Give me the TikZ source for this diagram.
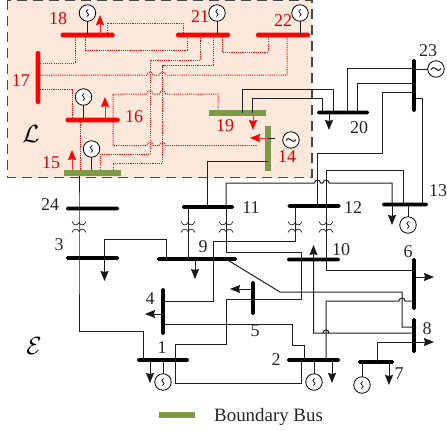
\documentclass[tikz,border=0pt]{standalone}
\usepackage{fontspec}
\setmainfont{Liberation Serif}
\usetikzlibrary{arrows.meta}
\definecolor{bdry}{HTML}{7D9A46}
\definecolor{peach}{HTML}{FCE9DC}
\newcommand{\hb}[2]{(#1 -| #2,0)}
\newcommand{\vb}[2]{(#1 |- 0,#2)}
\newcommand{\jmpx}[2]{-- (#1-3.2,#2) .. controls (#1-2.4,#2-4) and (#1+2.4,#2-4) .. (#1+3.2,#2)}
\newcommand{\xfmr}[2]{%
  \draw[xf] (#1-7,#2-5.5) .. controls (#1-5.5,#2-1.2) and (#1-1.5,#2-1.2) .. (#1,#2-4.5) .. controls (#1+1.5,#2-1.2) and (#1+5.5,#2-1.2) .. (#1+7,#2-5.5);
  \draw[xf] (#1-7,#2+5.5) .. controls (#1-5.5,#2+1.2) and (#1-1.5,#2+1.2) .. (#1,#2+4.5) .. controls (#1+1.5,#2+1.2) and (#1+5.5,#2+1.2) .. (#1+7,#2+5.5);}
\tikzset{
  x=1pt,y=-1pt,
  wire/.style={line width=1pt,draw=black!88},
  rwire/.style={line width=1pt,draw=red,dash pattern=on 1.1pt off 1.1pt},
  xf/.style={line width=0.65pt,draw=black!90},
  loadk/.style={line width=1pt,draw=black!90,-{Stealth[length=10pt,width=8pt,inset=1pt]}},
  loadr/.style={line width=1pt,draw=red!85!white,-{Stealth[length=10pt,width=8pt,inset=1pt,fill=red,color=red]}},
  hbus/.style={rectangle,rounded corners=1.6pt,fill=black,inner sep=0pt,minimum height=3.8pt},
  vbus/.style={rectangle,rounded corners=1.6pt,fill=black,inner sep=0pt,minimum width=3.8pt},
  rh/.style={hbus,fill=red,minimum height=4.8pt},
  rv/.style={vbus,fill=red,minimum width=4.8pt},
  gh/.style={rectangle,fill=bdry,inner sep=0pt,minimum height=6pt},
  gv/.style={rectangle,fill=bdry,inner sep=0pt,minimum width=6pt},
  genv/.style={circle,draw=black,line width=0.8pt,fill=white,inner sep=0pt,minimum size=16.5pt,
    path picture={\draw[line width=0.7pt,shift={(path picture bounding box.center)}] (0.6,-3.6) .. controls (-1.8,-2.2) and (-1.4,-0.8) .. (0,0) .. controls (1.4,0.8) and (1.8,2.2) .. (-0.6,3.6);}},
  genh/.style={circle,draw=black,line width=0.8pt,fill=white,inner sep=0pt,minimum size=16.5pt,
    path picture={\draw[line width=0.9pt,shift={(path picture bounding box.center)}] (-5,0.5) .. controls (-3,-2.4) and (-1.5,-1.3) .. (0,0) .. controls (1.5,1.3) and (3,2.4) .. (5,-0.5);}},
  num/.style={font=\fontsize{18}{20}\selectfont,text=black!85,inner sep=0pt},
  rnum/.style={num,text=red!90!black},
  cal/.style={font=\fontsize{24.88}{28}\selectfont,text=black,inner sep=0pt},
}
\begin{document}
\begin{tikzpicture}
\useasboundingbox (0,0) rectangle (447,429);
\draw[fill=peach,draw=black!72,line width=1.2pt,dash pattern=on 10pt off 6pt] (7.5,0.4) rectangle (312,177.5);
% buses
\node[rh,minimum width=54pt] (b18) at (87.5,35) {};
\node[rv,minimum height=53pt] (b17) at (38,77.5) {};
\node[rh,minimum width=54pt] (b16) at (92.5,120) {};
\node[gh,minimum width=57pt] (b15) at (92.3,173) {};
\node[rh,minimum width=54pt] (b21) at (203,35) {};
\node[rh,minimum width=54pt] (b22) at (283,35) {};
\node[gh,minimum width=57pt] (b19) at (237.5,112.5) {};
\node[gv,minimum height=45pt] (b14) at (268,148.5) {};
\node[hbus,minimum width=52pt] (b20) at (343,112.5) {};
\node[vbus,minimum height=53pt] (b23) at (414,85.5) {};
\node[hbus,minimum width=46pt] (b13) at (405,204.5) {};
\node[hbus,minimum width=53pt] (b12) at (314,206) {};
\node[hbus,minimum width=52pt] (b11) at (208,207) {};
\node[hbus,minimum width=53pt] (b24) at (92.5,208.5) {};
\node[hbus,minimum width=53pt] (b3) at (92.5,258) {};
\node[hbus,minimum width=80pt] (b9) at (197,259) {};
\node[hbus,minimum width=53pt] (b10) at (313.5,259.5) {};
\node[vbus,minimum height=47pt] (b4) at (163,311.5) {};
\node[vbus,minimum height=34pt] (b5) at (253,298) {};
\node[hbus,minimum width=52pt] (b1) at (163,360) {};
\node[hbus,minimum width=53pt] (b2) at (313.5,360) {};
\node[vbus,minimum height=52pt] (b6) at (414,284) {};
\node[vbus,minimum height=35pt] (b8) at (414,335.5) {};
\node[hbus,minimum width=36pt] (b7) at (376,362) {};
% generators
\coordinate (g18) at (87.5,13);
\coordinate (g21) at (217,13);
\coordinate (g22) at (300,13);
\coordinate (g16) at (83.5,97);
\coordinate (g15) at (91.5,149);
\coordinate (g14) at (291,140);
\coordinate (g23) at (436,69);
\coordinate (g13) at (408,225);
\coordinate (g1) at (163,382);
\coordinate (g2) at (314,382);
\coordinate (g7) at (362,385);
% free ends of load arrows
\coordinate (l18) at (100,15);
\coordinate (l16) at (105,97);
\coordinate (l15) at (72,150);
\coordinate (l19) at (253,130);
\coordinate (l14) at (250,138);
\coordinate (l20) at (329,130);
\coordinate (l13) at (392,225);
\coordinate (l3) at (104.5,281);
\coordinate (l9) at (195,279);
\coordinate (l10) at (313.5,245);
\coordinate (l4) at (145,314);
\coordinate (l5) at (230,289);
\coordinate (l1) at (150,383);
\coordinate (l2) at (332,383);
\coordinate (l7) at (389,385);
\coordinate (l6) at (434,277);
\coordinate (l8) at (434,342);
% red dotted lines
\draw[rwire] \hb{b18}{107} -- (107,23) -- (183,23) -- \hb{b21}{183};
\draw[rwire] \hb{b18}{75} -- (75,63) -- \vb{b17}{63};
\draw[rwire] \hb{b18}{85} -- (85,50) -- (187,50) -- \hb{b21}{187};
\draw[rwire] \vb{b17}{75} \jmpx{150}{75} \jmpx{162.5}{75} -- (287,75) -- \hb{b22}{287};
\draw[rwire] \vb{b17}{89} -- (72,89) -- \hb{b16}{72};
\draw[rwire] \hb{b16}{113} -- (113,94) \jmpx{150}{94} \jmpx{162.5}{94} -- (218,94) -- (b19.north -| 218,0);
\draw[rwire] \hb{b16}{113} -- (113,145.5) \jmpx{150}{145.5} \jmpx{162.5}{145.5} -- (257,145.5);
\draw[rwire] \hb{b16}{80} -- (b15.north -| 80,0);
\draw[rwire] (b15.north -| 100,0) -- (100,154) -- (150,154) -- (150,60) -- (200.5,60) -- \hb{b21}{200.5};
\draw[rwire] (b15.north -| 113,0) -- (113,163) -- (162.5,163) -- (162.5,65) -- (213,65) -- \hb{b21}{213};
\draw[rwire] \hb{b21}{222} -- (222,52) -- (268,52) -- \hb{b22}{268};
% black lines
\draw[wire] (b15.south -| 79,0) -- \hb{b24}{79} -- \hb{b3}{79} -- (79,331) -- (143,331) -- \hb{b1}{143};
\draw[wire] \hb{b3}{104.5} -- (104.5,239) -- (166,239) -- \hb{b9}{166};
\draw[wire] \hb{b11}{188} -- \hb{b9}{188};
\draw[wire] \hb{b11}{226} -- (226,252) -- (301,252) -- (301,299) -- (253,299);
\draw[wire] \hb{b12}{295} -- (295,241) -- (213,241) -- (213,301) -- \vb{b4}{301};
\draw[wire] \hb{b9}{226} -- (280,292) -- (402,292) -- (402,327) -- \vb{b8}{327};
\draw[wire] \hb{b12}{326} -- (326,270) -- \vb{b6}{270};
\draw[wire] \hb{b12}{317.5} -- (317.5,153) -- (382,153) -- (382,92) -- \vb{b23}{92};
\draw[wire] \hb{b12}{326} -- (326,170) -- (403,170) -- \hb{b13}{403};
\draw[wire] \hb{b11}{226} -- (226,183) \jmpx{317.5}{183} \jmpx{326}{183} -- (392,183) -- \hb{b13}{392};
\draw[wire] \vb{b23}{98} -- (422,98) -- \hb{b13}{422};
\draw[wire] \hb{b20}{347} -- (347,68) -- \vb{b23}{68};
\draw[wire] \hb{b20}{357} -- (357,83) -- \vb{b23}{83};
\draw[wire] \hb{b19}{242} -- (242,89) -- (333,89) -- \hb{b20}{333};
\draw[wire] \hb{b19}{252} -- (252,98.7) -- (322,98.7) -- \hb{b20}{322};
\draw[wire] \vb{b14}{161} -- (207.5,161) -- \hb{b11}{207.5};
\draw[wire] \vb{b5}{299} -- (226,299) -- (226,344) -- (175,344) -- \hb{b1}{175};
\draw[wire] \hb{b1}{175} -- (175,383) -- (301,383) -- \hb{b2}{301};
\draw[wire] \vb{b4}{324} -- (292,324) -- (292,345) -- (304,345) -- \hb{b2}{304};
\draw[wire] \hb{b2}{326} -- (326,301) \jmpx{402}{301} -- \vb{b6}{301};
\draw[wire] \hb{b7}{377} -- (377,342) -- \vb{b8}{342};
\draw[wire] \vb{b8}{333} \jmpx{326}{333} -- (313.5,333) -- \hb{b10}{313.5};
% transformers
\xfmr{79}{227}
\xfmr{188}{227}
\xfmr{226}{227}
\xfmr{295}{227}
\xfmr{326}{227}
% generator stems
\draw[wire] (g18) -- \hb{b18}{87.5};
\draw[wire] (g21) -- \hb{b21}{217};
\draw[wire] (g22) -- \hb{b22}{300};
\draw[wire] (g16) -- \hb{b16}{83.5};
\draw[wire] (g15) -- (b15.north -| 91.5,0);
\draw[wire] (275,138) -- \vb{b14}{138};
\draw[wire] (g23) -- \vb{b23}{69};
\draw[wire] (g13) -- \hb{b13}{408};
\draw[wire] (g1) -- \hb{b1}{163};
\draw[wire] (g2) -- \hb{b2}{314};
\draw[wire] (g7) -- \hb{b7}{362};
% generators over the stems
\node[genv] (G18) at (g18) {};
\node[genv] (G21) at (g21) {};
\node[genv] (G22) at (g22) {};
\node[genv] (G16) at (g16) {};
\node[genv] (G15) at (g15) {};
\node[genh] (G14) at (g14) {};
\node[genh] (G23) at (g23) {};
\node[genv] (G13) at (g13) {};
\node[genv] (G1) at (g1) {};
\node[genv] (G2) at (g2) {};
\node[genv] (G7) at (g7) {};
% loads
\draw[loadr] \hb{b18}{100} -- (l18);
\draw[loadr] \hb{b16}{105} -- (l16);
\draw[loadr] (b15.north -| 72,0) -- (l15);
\draw[loadr] (b19.south -| 253,0) -- (l19);
\draw[loadr] \vb{b14}{138} -- (l14);
\draw[loadk] \hb{b20}{329} -- (l20);
\draw[loadk] \hb{b13}{392} -- (l13);
\draw[loadk] \hb{b3}{104.5} -- (l3);
\draw[loadk] \hb{b9}{195} -- (l9);
\draw[loadk] \hb{b10}{313.5} -- (l10);
\draw[loadk] \vb{b4}{314} -- (l4);
\draw[loadk] \vb{b5}{289} -- (l5);
\draw[loadk] \hb{b1}{150} -- (l1);
\draw[loadk] \hb{b2}{332} -- (l2);
\draw[loadk] \hb{b7}{389} -- (l7);
\draw[loadk] \vb{b6}{277} -- (l6);
\draw[loadk] \vb{b8}{342} -- (l8);
% labels
\node[rnum] (t18) at (58,19) {18};
\node[rnum] (t17) at (21,81) {17};
\node[rnum] (t16) at (134,117) {16};
\node[rnum] (t15) at (51,163) {15};
\node[rnum] (t21) at (200,17) {21};
\node[rnum] (t22) at (283,21) {22};
\node[rnum] (t19) at (225,126) {19};
\node[rnum] (t14) at (287,157) {14};
\node[num] (t23) at (428,51) {23};
\node[num] (t20) at (359,128) {20};
\node[num] (t13) at (438,191) {13};
\node[num] (t12) at (353,208) {12};
\node[num] (t11) at (251,208) {11};
\node[num] (t24) at (50,205) {24};
\node[num] (t3) at (59,245) {3};
\node[num] (t9) at (203,247) {9};
\node[num] (t10) at (341,250) {10};
\node[num] (t6) at (408,252) {6};
\node[num] (t8) at (427,329) {8};
\node[num] (t7) at (399,374) {7};
\node[num] (t5) at (255,331) {5};
\node[num] (t4) at (150,299) {4};
\node[num] (t1) at (162,348) {1};
\node[num] (t2) at (276,360) {2};
\node[cal] (tL) at (31,134) {$\mathcal{L}$};
\node[cal] (tE) at (34,346) {$\mathcal{E}$};
% legend
\node[gh,minimum width=36pt] (key) at (177,414.5) {};
\node[inner sep=0pt,anchor=west,font=\fontsize{18.9}{22}\selectfont,text=black!85] (keytext) at (214,416.5) {Boundary Bus};
\end{tikzpicture}
\end{document}
